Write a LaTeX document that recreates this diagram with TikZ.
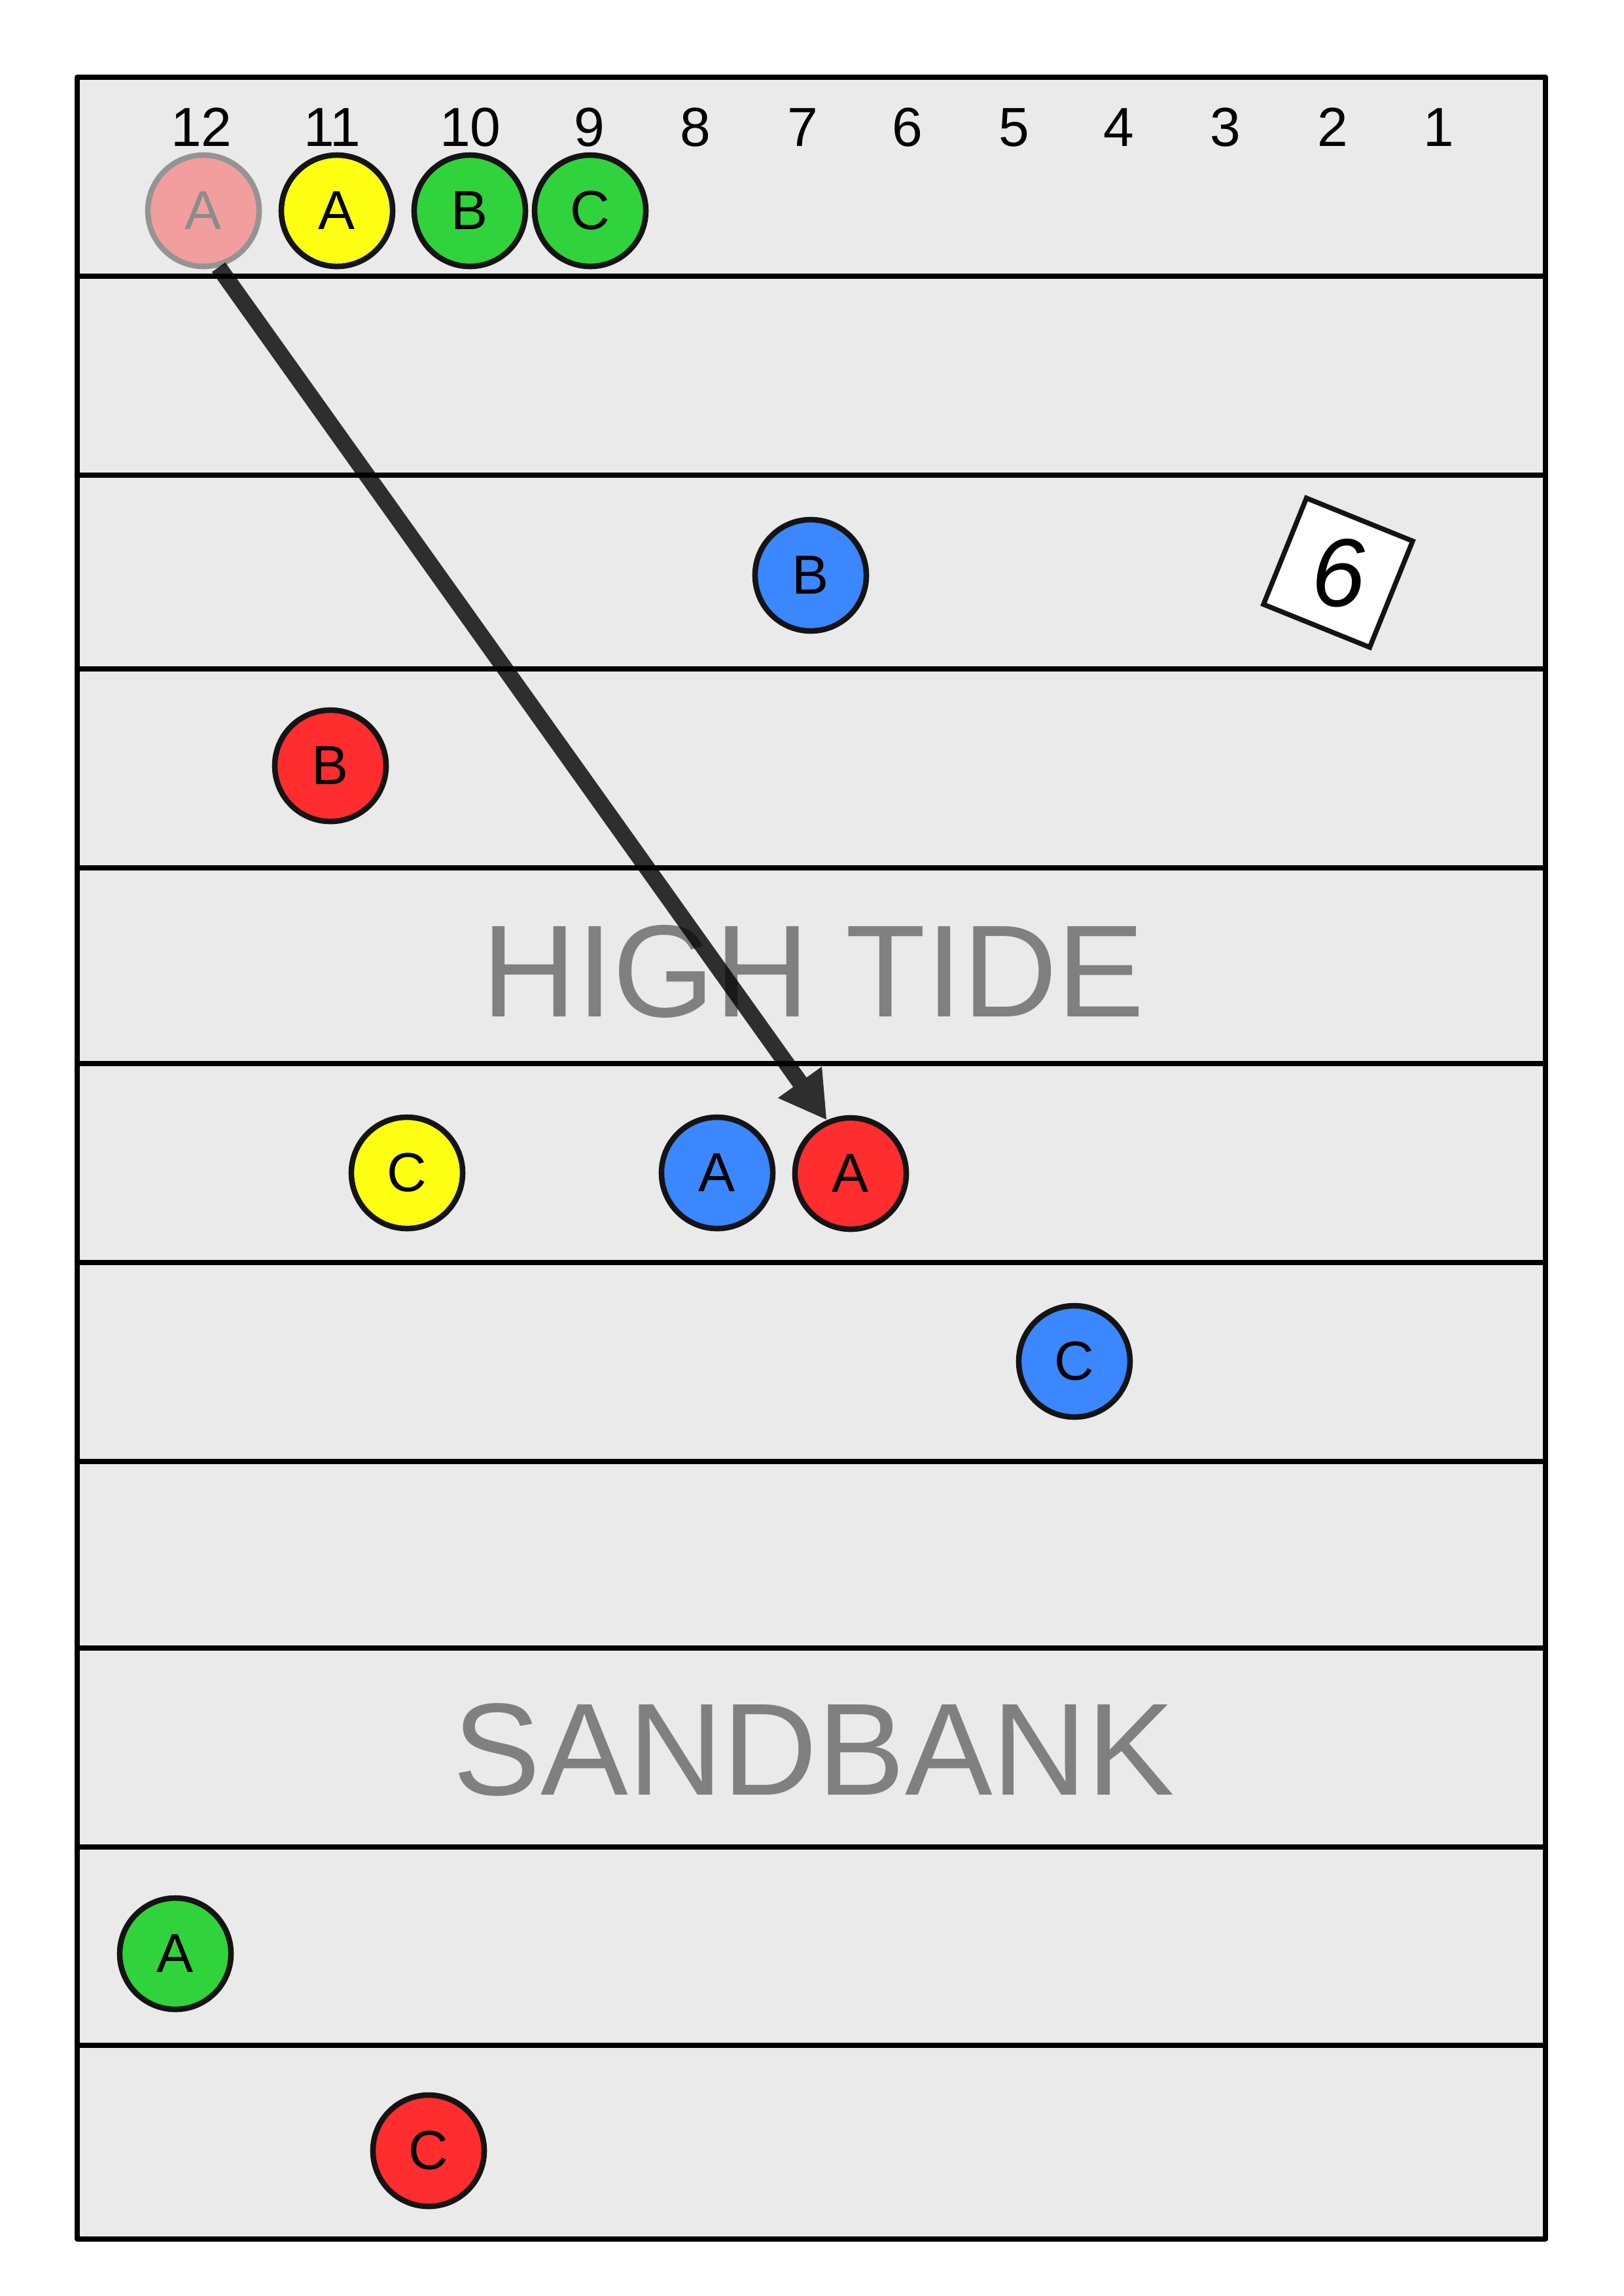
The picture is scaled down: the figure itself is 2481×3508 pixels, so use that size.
\documentclass[tikz,border=0pt]{standalone}
\usepackage{fontspec}
\setmainfont{Liberation Sans}
\usetikzlibrary{arrows.meta}
\definecolor{bg}{HTML}{EAEAEA}
\definecolor{tokred}{HTML}{FF2D2D}
\definecolor{tokblue}{HTML}{3A87FF}
\definecolor{tokgreen}{HTML}{30D33C}
\definecolor{tokyellow}{HTML}{FFFF14}
\definecolor{outline}{HTML}{141414}
\definecolor{zonegray}{HTML}{808080}
\begin{document}
\begin{tikzpicture}[x=0.01cm,y=-0.01cm,
  token/.style={circle, draw=outline, line width=0.085cm, minimum size=1.70cm, inner sep=0pt,
    font=\fontsize{23.9pt}{28pt}\selectfont, text=black},
  num/.style={anchor=base, inner sep=0pt, font=\fontsize{23.9pt}{28pt}\selectfont},
  zone/.style={anchor=base, inner sep=0pt, text=zonegray, font=\fontsize{57pt}{64pt}\selectfont},
  rule/.style={line width=0.08cm, draw=black},
  diebox/.style={rectangle, draw=outline, fill=white, line width=0.075cm, minimum size=1.75cm,
    inner sep=0pt, rotate=-22},
  move/.style={line width=0.25cm, draw=black, -{Triangle[length=0.71cm,width=0.77cm]}}
]
% page
\fill[white] (0,0) rectangle (2481,3508);
\useasboundingbox (0,0) rectangle (2481,3508);
% board
\fill[bg] (118,118) rectangle (2362,3421);
\foreach \yy in {422,726,1022,1326,1625,1929,2233,2518,2822,3125}
  \draw[rule] (118,\yy) -- (2362,\yy);
\draw[rule, line join=round] (118,118) rectangle (2362,3421);
% column numbers
\foreach \n/\xx in {12/308,11/508,10/719,9/901,8/1063,7/1227,6/1387,5/1550,4/1710,3/1873,2/2037,1/2199}
  \node[num] (n\n) at (\xx,223) {\n};
% zone labels
\node[zone] (hightide) at (1243,1553) {HIGH TIDE};
\node[zone] (sandbank) at (1244,2742) {SANDBANK};
% die
\node[diebox] (die) at (2045,875) {};
\node[font=\fontsize{42pt}{48pt}\selectfont\itshape, inner sep=0pt] (dieval) at (2046,876) {6};
% tokens
\begin{scope}[transparency group, opacity=0.4]
  \node[token, fill=tokred] (pA) at (311,322) {A};
\end{scope}
\node[token, fill=tokyellow] (yA) at (515,322) {A};
\node[token, fill=tokgreen] (gB) at (718,322) {B};
\node[token, fill=tokgreen] (gC) at (902,322) {C};
\node[token, fill=tokblue] (bB) at (1239,879) {B};
\node[token, fill=tokred] (rB) at (505,1170) {B};
\node[token, fill=tokyellow] (yC) at (622,1792) {C};
\node[token, fill=tokblue] (bA) at (1096,1792) {A};
\node[token, fill=tokred] (rA) at (1300,1793) {A};
\node[token, fill=tokblue] (bC) at (1642,2080) {C};
\node[token, fill=tokgreen] (gA) at (268,2985) {A};
\node[token, fill=tokred] (rC) at (655,3286) {C};
% move arrow
\begin{scope}[transparency group, opacity=0.8]
  \draw[move] (pA.-75) -- (rA.114);
\end{scope}
\end{tikzpicture}
\end{document}
